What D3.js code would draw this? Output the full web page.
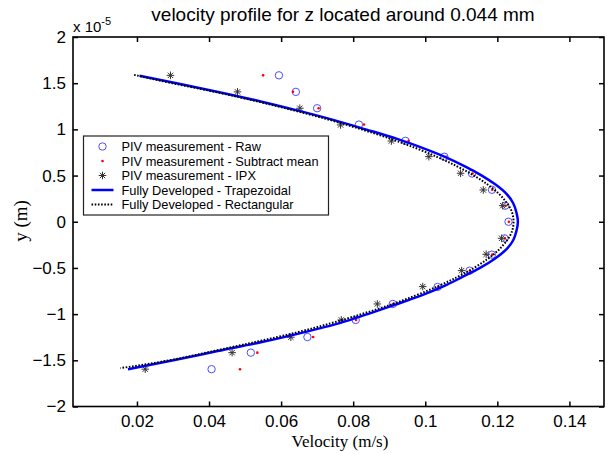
<!DOCTYPE html>
<html>
<head>
<meta charset="utf-8">
<script src="https://cdn.jsdelivr.net/npm/d3@7/dist/d3.min.js"></script>
<style>
  html, body { margin: 0; padding: 0; background: #fff; }
  svg { display: block; }
</style>
</head>
<body>
<svg id="chart" width="611" height="454"></svg>
<script>
// Measurement heights (units of 1e-5 m), shared by the Raw and Subtract-mean series
const pivY = [1.585, 1.406, 1.229, 1.052, 0.876, 0.704, 0.522, 0.346, 0.174, 0.000,
              -0.180, -0.356, -0.530, -0.706, -0.890, -1.063, -1.248, -1.417, -1.596];
// PIV measurement - Raw (m/s)
const rawX = [0.0594, 0.0641, 0.0700, 0.0816, 0.0945, 0.1053, 0.1130, 0.1185, 0.1222, 0.1231,
              0.1220, 0.1185, 0.1123, 0.1034, 0.0910, 0.0807, 0.0673, 0.0516, 0.0407];
// PIV measurement - Subtract mean (m/s)
const subX = [0.0550, 0.0633, 0.0704, 0.0830, 0.0954, 0.1058, 0.1131, 0.1186, 0.1223, 0.1232,
              0.1221, 0.1186, 0.1124, 0.1036, 0.0911, 0.0808, 0.0689, 0.0534, 0.0486];
// PIV measurement - IPX (m/s)
const ipxY = [1.585, 1.406, 1.229, 1.048, 0.874, 0.705, 0.525, 0.344, 0.174,
              -0.179, -0.352, -0.529, -0.702, -0.890, -1.063, -1.250, -1.417, -1.596];
const ipxX = [0.0293, 0.0479, 0.0652, 0.0765, 0.0906, 0.1010, 0.1098, 0.1161, 0.1215,
              0.1212, 0.1169, 0.1101, 0.0993, 0.0867, 0.0767, 0.0627, 0.0464, 0.0223];

// Fully developed profile - trapezoidal channel
const trapY = [1.581, 1.50, 1.40, 1.30, 1.20, 1.10, 1.00, 0.90, 0.80, 0.70, 0.60, 0.50, 0.40, 0.30, 0.20, 0.10, 0.00,
               -0.10, -0.20, -0.30, -0.40, -0.50, -0.60, -0.70, -0.80, -0.90, -1.00, -1.10, -1.20, -1.30, -1.40, -1.50, -1.596];
const trapX = [0.0207, 0.0310, 0.0432, 0.0546, 0.0650, 0.0747, 0.0835, 0.0920, 0.0992, 0.1056, 0.1110, 0.1157, 0.1196, 0.1226, 0.1244, 0.1253, 0.1257,
               0.1253, 0.1244, 0.1225, 0.1193, 0.1152, 0.1102, 0.1050, 0.0988, 0.0915, 0.0840, 0.0760, 0.0660, 0.0550, 0.0424, 0.0301, 0.0175];
// Fully developed profile - rectangular channel
const rectY = [1.590, 1.50, 1.40, 1.30, 1.20, 1.10, 1.00, 0.90, 0.80, 0.70, 0.60, 0.50, 0.40, 0.30, 0.20, 0.10, 0.00,
               -0.10, -0.20, -0.30, -0.40, -0.50, -0.60, -0.70, -0.80, -0.90, -1.00, -1.10, -1.20, -1.30, -1.40, -1.50, -1.585];
const rectX = [0.0192, 0.0298, 0.0424, 0.0538, 0.0641, 0.0737, 0.0823, 0.0902, 0.0972, 0.1034, 0.1088, 0.1135, 0.1174, 0.1205, 0.1227, 0.1241, 0.1245,
               0.1241, 0.1227, 0.1205, 0.1174, 0.1135, 0.1088, 0.1034, 0.0972, 0.0902, 0.0823, 0.0737, 0.0641, 0.0530, 0.0412, 0.0290, 0.0154];

const xTicks = [0.02, 0.04, 0.06, 0.08, 0.1, 0.12, 0.14];
const yTicks = [-2, -1.5, -1, -0.5, 0, 0.5, 1, 1.5, 2];
const legendLabels = ["PIV measurement - Raw", "PIV measurement - Subtract mean", "PIV measurement - IPX",
                      "Fully Developed - Trapezoidal", "Fully Developed - Rectangular"];
const titleText = "velocity profile for z located around 0.044 mm";

const svg = d3.select("#chart");
const L = 73, R = 604, T = 37, B = 406.5;
const x = d3.scaleLinear().domain([0.00225, 0.1496]).range([L, R]);
const y = d3.scaleLinear().domain([-2, 2]).range([B, T]);

const sans = "'Liberation Sans', Arial, sans-serif";
const serif = "'Liberation Serif', 'Times New Roman', serif";

// axes with inward ticks, boxed
const axB = svg.append("g").attr("transform", `translate(0,${B})`)
  .call(d3.axisBottom(x).tickValues(xTicks).tickSize(-5).tickPadding(8).tickFormat(d => d === 0.1 ? "0.1" : d3.format(".2f")(d)));
const axT = svg.append("g").attr("transform", `translate(0,${T})`)
  .call(d3.axisTop(x).tickValues(xTicks).tickSize(-5).tickFormat(""));
const axLft = svg.append("g").attr("transform", `translate(${L},0)`)
  .call(d3.axisLeft(y).tickValues(yTicks).tickSize(-5).tickPadding(7).tickFormat(d => d3.format("")(d)));
const axRt = svg.append("g").attr("transform", `translate(${R},0)`)
  .call(d3.axisRight(y).tickValues(yTicks).tickSize(-5).tickFormat(""));
[axB, axT, axLft, axRt].forEach(g => {
  g.select(".domain").remove();
  g.selectAll(".tick line").attr("stroke", "#000").attr("stroke-width", 1.5);
  g.selectAll("text").attr("font-family", sans).attr("font-size", 17).attr("fill", "#000");
});
svg.append("rect").attr("x", L).attr("y", T).attr("width", R - L).attr("height", B - T)
  .attr("fill", "none").attr("stroke", "#000").attr("stroke-width", 1.6);

const plot = svg.append("g");

// raw: open blue circles
plot.selectAll("circle.raw").data(d3.zip(rawX, pivY)).join("circle")
  .attr("class", "raw").attr("cx", d => x(d[0])).attr("cy", d => y(d[1])).attr("r", 3.7)
  .attr("fill", "none").attr("stroke", "#4d4dff").attr("stroke-width", 1);

// subtract mean: red dots
plot.selectAll("circle.sub").data(d3.zip(subX, pivY)).join("circle")
  .attr("class", "sub").attr("cx", d => x(d[0])).attr("cy", d => y(d[1])).attr("r", 1.3)
  .attr("fill", "#ff0000");

// IPX: asterisks
function asterisk(sel, s) {
  const a = s * 0.7071;
  sel.append("path")
    .attr("d", `M${-s},0H${s}M0,${-s}V${s}M${-a},${-a}L${a},${a}M${-a},${a}L${a},${-a}`)
    .attr("stroke", "#333").attr("stroke-width", 1).attr("fill", "none");
}
plot.selectAll("g.ipx").data(d3.zip(ipxX, ipxY)).join("g")
  .attr("class", "ipx").attr("transform", d => `translate(${x(d[0])},${y(d[1])})`)
  .each(function () { asterisk(d3.select(this), 3.8); });

const line = d3.line().x(d => x(d[0])).y(d => y(d[1])).curve(d3.curveMonotoneY);

plot.append("path").datum(d3.zip(trapX, trapY))
  .attr("d", line).attr("fill", "none").attr("stroke", "#0000ff").attr("stroke-width", 2.5);
plot.append("path").datum(d3.zip(rectX, rectY))
  .attr("d", line).attr("fill", "none").attr("stroke", "#000").attr("stroke-width", 2)
  .attr("stroke-dasharray", "1.6,1.6");

// title and exponent note
svg.append("text").attr("x", 343).attr("y", 21).attr("text-anchor", "middle")
  .attr("font-family", sans).attr("font-size", 19).text(titleText);
const ex = svg.append("text").attr("x", L).attr("y", 32).attr("font-family", sans).attr("font-size", 15);
ex.append("tspan").text("x 10");
ex.append("tspan").attr("dy", -7).attr("font-size", 11).text("-5");

// axis labels
svg.append("text").attr("x", 340).attr("y", 447).attr("text-anchor", "middle")
  .attr("font-family", serif).attr("font-size", 17).text("Velocity (m/s)");
svg.append("text").attr("transform", `translate(27,221) rotate(-90)`).attr("text-anchor", "middle")
  .attr("font-family", serif).attr("font-size", 19).text("y (m)");

// legend
const lg = svg.append("g").attr("transform", "translate(83.5,136)");
lg.append("rect").attr("width", 245).attr("height", 79).attr("fill", "#fff")
  .attr("stroke", "#222").attr("stroke-width", 1.2);
legendLabels.forEach((t, i) => {
  const cy = 10.5 + i * 14.5;
  lg.append("text").attr("x", 38).attr("y", cy + 4.5).attr("font-family", sans).attr("font-size", 12.8).text(t);
  const k = lg.append("g").attr("transform", `translate(19,${cy})`);
  if (i === 0) k.append("circle").attr("r", 3.7).attr("fill", "none").attr("stroke", "#4d4dff");
  if (i === 1) k.append("circle").attr("r", 1.3).attr("fill", "#ff0000");
  if (i === 2) asterisk(k, 3.8);
  if (i === 3) k.append("line").attr("x1", -11).attr("x2", 11).attr("stroke", "#0000ff").attr("stroke-width", 2.5);
  if (i === 4) k.append("line").attr("x1", -11).attr("x2", 11).attr("stroke", "#000").attr("stroke-width", 2).attr("stroke-dasharray", "1.6,1.6");
});
</script>
</body>
</html>
